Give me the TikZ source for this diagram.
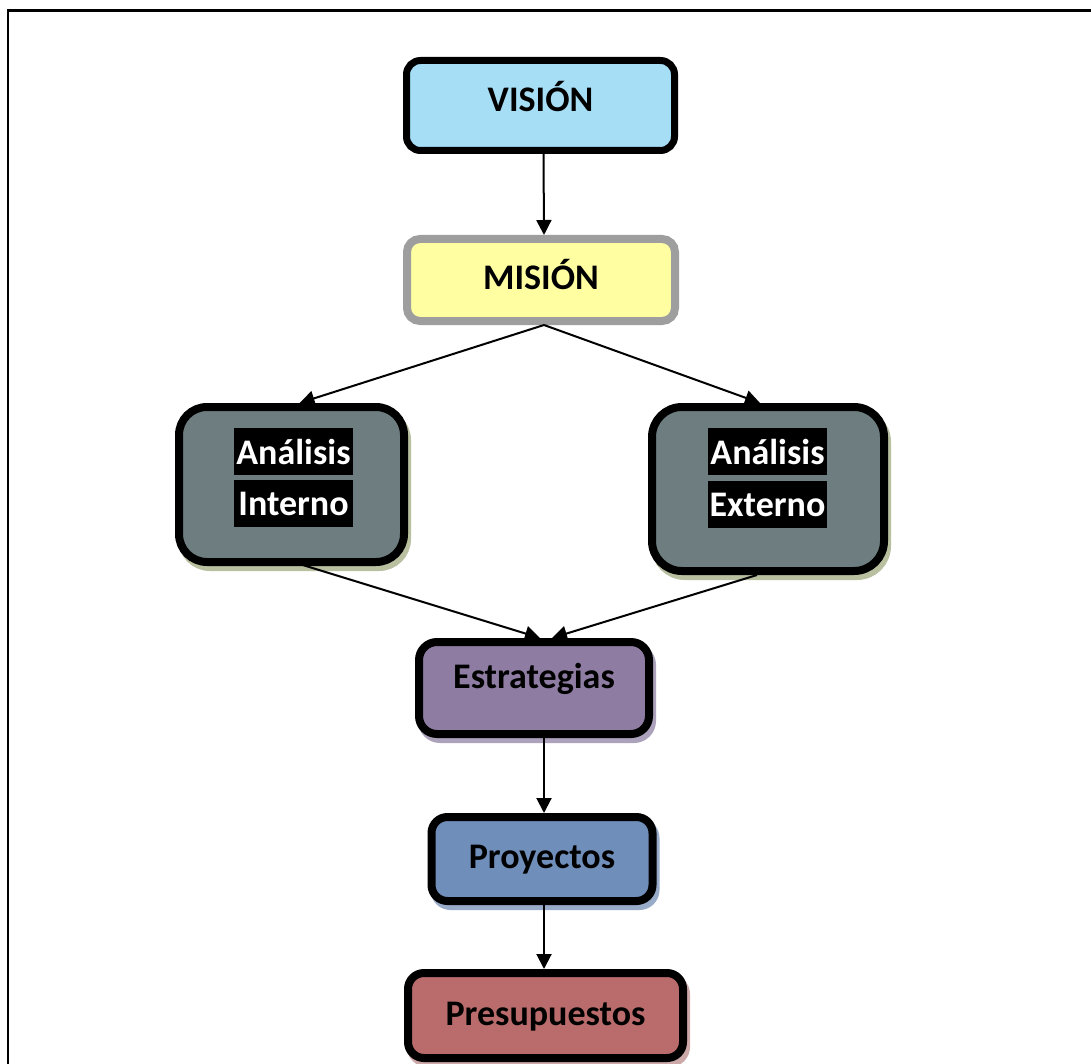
\documentclass[tikz,border=0pt]{standalone}
\usepackage{fontspec}
\setmainfont{Carlito}
\usetikzlibrary{arrows.meta,calc,shadows}
\definecolor{visF}{RGB}{166,222,246}
\definecolor{misF}{RGB}{255,255,162}
\definecolor{misB}{RGB}{158,158,158}
\definecolor{anaF}{RGB}{110,126,128}
\definecolor{anaS}{RGB}{184,192,160}
\definecolor{estF}{RGB}{142,124,162}
\definecolor{estS}{RGB}{172,162,188}
\definecolor{proF}{RGB}{112,142,186}
\definecolor{proS}{RGB}{152,172,202}
\definecolor{preF}{RGB}{186,108,108}
\definecolor{preS}{RGB}{204,168,168}
\tikzset{
  box/.style={rectangle, rounded corners=#1, draw=black, line width=8pt, inner sep=0pt,
    font=\fontsize{36}{44}\selectfont\bfseries, text=black},
  box/.default=16pt,
  base/.style={text height=#1, text depth=18pt},
  shad/.style={drop shadow={shadow xshift=3pt, shadow yshift=-5pt, fill=#1, draw=#1, line width=8pt, opacity=1}},
  lbl/.style={rectangle, fill=black, text=white, inner sep=0pt, minimum width=119pt, minimum height=47pt,
    font=\fontsize{36}{44}\selectfont\bfseries},
  conn/.style={line width=2pt, -{Triangle[length=15pt,width=15pt]}},
  frame/.style={line width=2.5pt, draw=black}
}
\begin{document}
\begin{tikzpicture}[x=1pt,y=-1pt]
\clip (0,0) rectangle (1091,1064);
\fill[white] (0,0) rectangle (1091,1064);
\draw[frame] (8,10.5) rectangle (1110,1090);
\node[box=14pt, line width=7pt, fill=visF, minimum width=268pt, minimum height=90pt, base=31pt] (vision) at (540.5,105.5) {VISIÓN};
\node[box=13pt, draw=misB, fill=misF, minimum width=268pt, minimum height=82pt, base=38pt] (mision) at (541,280) {MISIÓN};
\node[box=28pt, shad=anaS, fill=anaF, minimum width=225pt, minimum height=155pt] (interno) at (291.5,484.5) {};
\node[box=30pt, shad=anaS, fill=anaF, minimum width=232pt, minimum height=164pt] (externo) at (768,489) {};
\node[lbl] (intA) at (293.5,451.5) {Análisis};
\node[lbl] (intB) at (293.5,503.5) {Interno};
\node[lbl] (extA) at (767.5,451.5) {Análisis};
\node[lbl] (extB) at (767.5,504.5) {Externo};
\node[box=18pt, shad=estS, fill=estF, minimum width=230pt, minimum height=92pt, base=19pt] (estr) at (534,688) {Estrategias};
\node[box=16pt, shad=proS, fill=proF, minimum width=221pt, minimum height=84pt, base=36pt] (proy) at (542,859) {Proyectos};
\node[box=16pt, shad=preS, fill=preF, minimum width=275pt, minimum height=85pt, base=37pt] (pres) at (545.5,1015.5) {Presupuestos};
\draw[conn] ($(vision.south)+(3,0)$) -- ($(mision.north)+(3,0)$);
\draw[conn] ($(mision.south)+(3,0)$) -- ($(interno.north)+(8,0)$);
\draw[conn] ($(mision.south)+(3,0)$) -- ($(externo.north)+(-8,0)$);
\draw[conn] ($(interno.south)+(8,-2)$) -- ($(estr.north)+(6,0)$);
\draw[conn] ($(externo.south)+(-11,0)$) -- ($(estr.north)+(18,0)$);
\draw[conn] ($(estr.south)+(10,0)$) -- ($(proy.north)+(2,0)$);
\draw[conn] ($(proy.south)+(2,0)$) -- ($(pres.north)+(-1.5,0)$);
\end{tikzpicture}
\end{document}
